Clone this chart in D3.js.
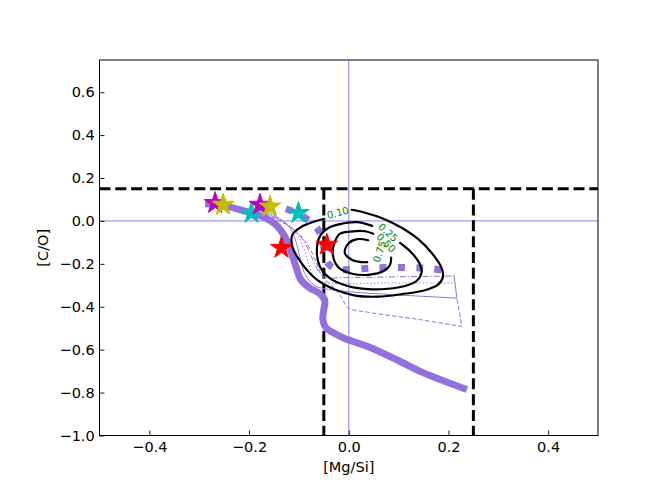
<!DOCTYPE html>
<html>
<head>
<meta charset="utf-8">
<script src="https://cdn.jsdelivr.net/npm/d3@7"></script>
<style>
body{margin:0;background:#fff;}
svg{display:block;font-family:"DejaVu Sans",sans-serif;}
</style>
</head>
<body>
<svg id="chart" width="664" height="498"></svg>
<script>
// ---- data (axis units: [Mg/Si], [C/O]) ----
const xTicks = [-0.4, -0.2, 0.0, 0.2, 0.4];
const yTicks = [-1.0, -0.8, -0.6, -0.4, -0.2, 0.0, 0.2, 0.4, 0.6];

const thickSolid = [[-0.288,0.080],[-0.258,0.075],[-0.218,0.052],[-0.172,0.019],[-0.146,-0.018],[-0.128,-0.074],[-0.116,-0.143],[-0.106,-0.213],[-0.096,-0.274],[-0.078,-0.313],[-0.058,-0.339],[-0.048,-0.372],[-0.050,-0.413],[-0.052,-0.460],[-0.046,-0.497],[-0.028,-0.525],[-0.008,-0.548],[0.043,-0.590],[0.103,-0.655],[0.149,-0.707],[0.237,-0.786]];
const thickDotted = [[-0.126,0.057],[-0.098,0.029],[-0.072,-0.013],[-0.058,-0.055],[-0.050,-0.125],[-0.044,-0.190],[-0.028,-0.223],[-0.002,-0.227],[0.057,-0.218],[0.129,-0.218],[0.167,-0.223],[0.207,-0.237]];
const thinSolid = [[-0.188,0.061],[-0.148,0.024],[-0.118,-0.032],[-0.104,-0.111],[-0.096,-0.190],[-0.086,-0.255],[-0.068,-0.302],[-0.038,-0.320],[0.023,-0.334],[0.123,-0.348],[0.217,-0.360],[0.211,-0.251]];
const thinDotted = [[-0.182,0.052],[-0.138,0.006],[-0.106,-0.055],[-0.090,-0.130],[-0.080,-0.204],[-0.068,-0.264],[-0.042,-0.288],[0.063,-0.289],[0.213,-0.289]];
const thinDashDot = [[-0.174,0.043],[-0.128,-0.009],[-0.096,-0.074],[-0.078,-0.148],[-0.066,-0.213],[-0.050,-0.260],[-0.008,-0.264],[0.103,-0.260],[0.211,-0.257]];
const thinDashed = [[-0.168,0.033],[-0.118,-0.027],[-0.088,-0.092],[-0.068,-0.176],[-0.054,-0.255],[-0.028,-0.316],[-0.014,-0.358],[-0.002,-0.404],[0.043,-0.427],[0.143,-0.460],[0.227,-0.492],[0.217,-0.360]];

const contour010 = [[0.006,0.052],[0.033,0.038],[0.073,0.007],[0.106,-0.032],[0.140,-0.086],[0.166,-0.148],[0.186,-0.218],[0.189,-0.260],[0.179,-0.297],[0.153,-0.323],[0.107,-0.341],[0.059,-0.353],[0.013,-0.348],[-0.028,-0.320],[-0.064,-0.274],[-0.094,-0.199],[-0.113,-0.120],[-0.113,-0.064],[-0.094,-0.026],[-0.068,-0.002],[-0.049,0.010]];
const contour025 = [[0.103,-0.102],[0.126,-0.148],[0.143,-0.203],[0.146,-0.241],[0.136,-0.280],[0.113,-0.303],[0.079,-0.316],[0.039,-0.318],[-0.004,-0.302],[-0.038,-0.266],[-0.058,-0.212],[-0.064,-0.142],[-0.058,-0.072],[-0.041,-0.033],[-0.018,-0.015],[0.016,-0.006],[0.047,-0.023]];
const contour050 = [[0.085,-0.171],[0.083,-0.204],[0.071,-0.232],[0.039,-0.251],[0.007,-0.246],[-0.020,-0.218],[-0.032,-0.157],[-0.028,-0.097],[-0.018,-0.060],[0.003,-0.050],[0.033,-0.048],[0.049,-0.060]];
const contour075 = [[0.039,-0.090],[0.017,-0.085],[0.000,-0.104],[-0.008,-0.148],[0.006,-0.181],[0.026,-0.192],[0.037,-0.192]];
const contourLabels = ["0.10","0.25","0.50","0.75"];
const contourLabelPos = [[-0.022,0.038],[0.079,-0.054],[0.075,-0.102],[0.062,-0.143]];
const contourLabelAngle = [-15,42,45,-72];

const starColors = ["#00bfbf","#bf00bf","#bfbf00","#00bfbf","#bf00bf","#bfbf00","#ff0000","#ff0000"];
const starX = [-0.195,-0.268,-0.252,-0.101,-0.178,-0.158,-0.135,-0.044];
const starY = [0.037,0.083,0.075,0.037,0.075,0.067,-0.126,-0.111];

const cutCO = 0.15;
const cutMgLo = -0.05, cutMgHi = 0.25;

// ---- layout ----
const L = 99.5, R = 598, T = 60, B = 435.5;
const svg = d3.select("#chart");
const x = d3.scaleLinear().domain([-0.5,0.5]).range([L,R]);
const y = d3.scaleLinear().domain([-1.0,0.75]).range([B,T]);

svg.append("defs").append("clipPath").attr("id","clip")
  .append("rect").attr("x",L).attr("y",T).attr("width",R-L).attr("height",B-T);
const g = svg.append("g").attr("clip-path","url(#clip)");

const smooth = d3.line().x(d=>x(d[0])).y(d=>y(d[1])).curve(d3.curveCatmullRom.alpha(0.5));
// smooth through all but the final point, then a straight segment (sharp corner at track end)
function smoothThenCorner(d){
  const last = d[d.length-1];
  return smooth(d.slice(0,-1)) + "L" + x(last[0]) + "," + y(last[1]);
}

// reference lines
g.append("line").attr("x1",x(0)).attr("x2",x(0)).attr("y1",T).attr("y2",B)
  .attr("stroke","#8080ff").attr("stroke-width",1);
g.append("line").attr("x1",L).attr("x2",R).attr("y1",y(0)).attr("y2",y(0))
  .attr("stroke","#8080ff").attr("stroke-width",1);

// dashed cut lines
const dashStyle = sel => sel.attr("stroke","#000").attr("stroke-width",3).attr("stroke-dasharray","11,4.8").attr("fill","none");
g.append("line").attr("x1",L).attr("x2",R).attr("y1",y(cutCO)).attr("y2",y(cutCO)).call(dashStyle);
[cutMgLo,cutMgHi].forEach(v=>{
  g.append("line").attr("x1",x(v)).attr("x2",x(v)).attr("y1",y(cutCO)).attr("y2",B).call(dashStyle);
});

// thin model tracks
const purple = "#9370db";
const thin = [
  [thinSolid, null],
  [thinDotted, "1.3,2.2"],
  [thinDashDot, "6,2,1.3,2"],
  [thinDashed, "4.5,2.2"]
];
thin.forEach(([d,dash])=>{
  g.append("path").attr("d",smoothThenCorner(d)).attr("fill","none").attr("stroke",purple)
    .attr("stroke-width",1).attr("stroke-dasharray",dash);
});

// thick tracks
g.append("path").attr("d",smooth(thickSolid)).attr("fill","none").attr("stroke",purple)
  .attr("stroke-width",7).attr("stroke-linejoin","round");
g.append("path").attr("d",smooth(thickDotted)).attr("fill","none").attr("stroke",purple)
  .attr("stroke-width",7).attr("stroke-dasharray","7,11.3");

// contours
[contour010,contour025,contour050,contour075].forEach(c=>{
  g.append("path").attr("d",smooth(c)).attr("fill","none").attr("stroke","#000")
    .attr("stroke-width",2.2).attr("stroke-linecap","round").attr("stroke-linejoin","round");
});
contourLabels.forEach((t,i)=>{
  g.append("text").attr("transform",`translate(${x(contourLabelPos[i][0])},${y(contourLabelPos[i][1])}) rotate(${contourLabelAngle[i]})`)
    .attr("text-anchor","middle").attr("dy","0.35em").attr("font-size",10).attr("fill","#008000").text(t);
});

// stars
function starPath(Ro){
  const ri = Ro*0.381966; let p=[];
  for(let k=0;k<10;k++){
    const a = -Math.PI/2 + k*Math.PI/5;
    const r = k%2===0?Ro:ri;
    p.push([r*Math.cos(a), r*Math.sin(a)]);
  }
  return "M"+p.map(q=>q[0].toFixed(2)+","+q[1].toFixed(2)).join("L")+"Z";
}
starX.forEach((sx,i)=>{
  g.append("path").attr("d",starPath(11.5)).attr("transform",`translate(${x(sx)},${y(starY[i])})`)
    .attr("fill",starColors[i]).attr("stroke",starColors[i]).attr("stroke-width",1);
});

// axes
const xAxis = d3.axisBottom(x).tickValues(xTicks).tickSizeInner(-5).tickSizeOuter(0).tickPadding(9).tickFormat(d3.format(".1f"));
const yAxis = d3.axisLeft(y).tickValues(yTicks).tickSizeInner(-5).tickSizeOuter(0).tickPadding(9).tickFormat(d3.format(".1f"));
const gx = svg.append("g").attr("transform",`translate(0,${B})`).call(xAxis);
const gy = svg.append("g").attr("transform",`translate(${L},0)`).call(yAxis);
[gx,gy].forEach(a=>{
  a.select(".domain").remove();
  a.selectAll("text").attr("font-size",14.5).attr("font-family","DejaVu Sans").attr("fill","#000");
  a.selectAll("line").attr("stroke","#000").attr("stroke-width",0.9);
});
gx.selectAll("text").attr("dy","0.71em").attr("y",6);
gy.selectAll("text").attr("x",-4.8);

svg.append("rect").attr("x",L).attr("y",T).attr("width",R-L).attr("height",B-T)
  .attr("fill","none").attr("stroke","#000").attr("stroke-width",1);

svg.append("text").attr("x",(L+R)/2).attr("y",472).attr("text-anchor","middle")
  .attr("font-size",14.5).text("[Mg/Si]");
svg.append("text").attr("transform",`translate(47.5,${(T+B)/2}) rotate(-90)`).attr("text-anchor","middle")
  .attr("font-size",14.5).text("[C/O]");
</script>
</body>
</html>
